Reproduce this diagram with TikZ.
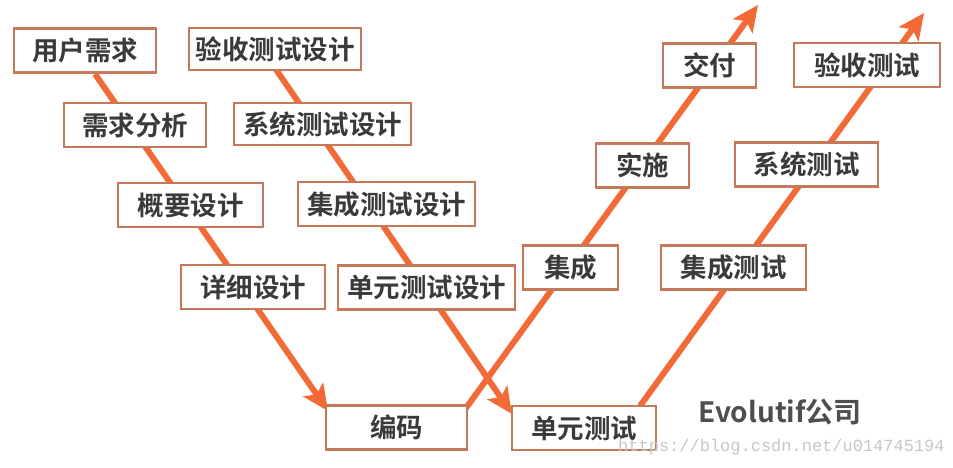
\documentclass[tikz,border=0pt]{standalone}
\usepackage{fontspec}
\setmainfont{Noto Sans CJK SC}
\newfontfamily\cjkb{Noto Sans CJK SC Bold}
\newfontfamily\wmfont{Liberation Mono}
\usetikzlibrary{arrows.meta}
\definecolor{vline}{HTML}{F26A36}
\definecolor{vbord}{HTML}{C47A58}
\definecolor{vtext}{HTML}{3A3A3A}
\tikzset{
  vbox/.style={draw=vbord, line width=2.2pt, fill=white, text=vtext,
    font=\cjkb\fontsize{26.5}{30}\selectfont, inner sep=0pt, minimum height=44pt},
  varrow/.style={draw=vline, line width=6pt,
    -{Stealth[length=26pt,width=24pt,inset=6pt]}},
}
\begin{document}
\begin{tikzpicture}[x=1pt,y=-1pt]
\useasboundingbox (0,0) rectangle (953,468);
\fill[white] (0,0) rectangle (953,468);
% connector end points
\coordinate (a1) at (95,74);
\coordinate (t1) at (328,411);
\coordinate (a2) at (275,68);
\coordinate (t2) at (512,414);
\coordinate (a3) at (466,408);
\coordinate (t3) at (758,5);
\coordinate (a4) at (640,406);
\coordinate (t4) at (924,13);
\draw[varrow] (a1) -- (t1);
\draw[varrow] (a2) -- (t2);
\draw[varrow] (a3) -- (t3);
\draw[varrow] (a4) -- (t4);
% boxes
\node[vbox, minimum width=142pt] (yh) at (85,50.5) {用户需求};
\node[vbox, minimum width=142pt] (xq) at (135,125) {需求分析};
\node[vbox, minimum width=145pt] (gy) at (190.5,205) {概要设计};
\node[vbox, minimum width=144pt] (xx) at (253,287) {详细设计};
\node[vbox, minimum width=141pt] (bm) at (396.5,427.5) {编码};
\node[vbox, minimum width=172pt, minimum height=42pt] (ysj) at (275,49) {验收测试设计};
\node[vbox, minimum width=177pt, minimum height=42pt] (xsj) at (322.5,124) {系统测试设计};
\node[vbox, minimum width=177pt] (jsj) at (386.5,204) {集成测试设计};
\node[vbox, minimum width=177pt] (dsj) at (426.5,287.5) {单元测试设计};
\node[vbox, minimum width=144pt] (dy) at (584,428) {单元测试};
\node[vbox, minimum width=95pt] (jc) at (570.5,267.5) {集成};
\node[vbox, minimum width=93pt] (ss) at (642.5,165.5) {实施};
\node[vbox, minimum width=93pt] (jf) at (709.5,65.5) {交付};
\node[vbox, minimum width=145pt] (jcs) at (733.5,267.5) {集成测试};
\node[vbox, minimum width=143pt] (xts) at (806.5,164.5) {系统测试};
\node[vbox, minimum width=146pt] (yst) at (867,65) {验收测试};
% labels
\node[text=vtext!90, font=\cjkb\fontsize{28}{32}\selectfont, inner sep=0pt] (evo) at (780,412) {Evolutif公司};
\node[text=black!22, font=\wmfont\fontsize{17}{20}\selectfont, inner sep=0pt, anchor=west] (wm) at (618,447) {https://blog.csdn.net/u014745194};
\end{tikzpicture}
\end{document}
